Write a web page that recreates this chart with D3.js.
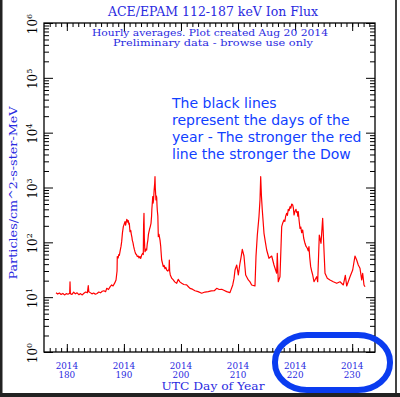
<!DOCTYPE html>
<html>
<head>
<meta charset="utf-8">
<script src="https://d3js.org/d3.v7.min.js"></script>
<style>
  body { margin: 0; background: #fff; }
  svg { display: block; }
</style>
</head>
<body>
<script>
// hourly flux (day of year, particles/cm^2-s-ster-MeV)
var days = [178.1,178.4,178.7,179.0,179.3,179.6,179.9,180.2,180.5,180.56,180.62,180.9,181.2,181.5,181.8,182.1,182.4,182.7,183.0,183.3,183.6,183.76,183.85,184.1,184.4,184.7,185.0,185.3,185.6,185.9,186.2,186.5,186.8,187.0,187.3,187.6,187.86,
  188.1,188.4,188.62,188.8,188.84,189.0,189.1,189.2,189.32,189.45,189.5,189.61,189.75,189.9,190.05,190.19,190.3,190.4,190.5,190.6,190.7,190.77,190.87,190.95,191.07,191.2,191.3,191.4,191.47,191.6,191.7,191.82,191.94,192.05,192.2,192.35,192.52,192.65,192.8,192.95,193.12,193.29,193.4,193.45,193.52,193.58,193.65,193.7,193.85,193.99,194.1,194.2,194.3,194.4,194.5,194.6,194.75,194.85,194.9,195.0,195.05,195.12,195.2,195.3,195.4,195.45,195.5,195.55,195.62,195.7,195.75,195.8,195.85,195.95,196.03,196.15,196.33,196.45,196.5,196.62,196.75,196.9,197.05,197.2,197.35,197.5,197.7,197.9,197.96,198.02,198.13,
  198.4,198.66,198.9,199.25,199.53,199.8,200.13,200.5,201.0,201.3,201.58,202.0,202.46,203.0,203.63,204.2,204.79,205.3,205.84,206.26,206.7,207.14,207.6,208.01,208.59,209.07,209.3,209.47,209.77,210.05,210.34,210.55,210.75,211.04,211.34,211.8,212.1,212.39,212.97,213.15,213.38,213.67,213.85,213.97,214.1,214.25,214.55,214.8,215.02,215.42,215.9,216.3,216.77,216.88,217.05,217.35,
  217.65,217.8,218.05,218.2,218.35,218.53,218.65,218.8,218.95,219.11,219.25,219.4,219.58,219.7,219.81,219.95,220.16,220.27,220.38,220.47,220.56,220.7,220.86,221.0,221.15,221.33,221.5,221.73,221.9,222.14,222.3,222.43,222.55,222.73,222.9,
  223.08,223.31,223.78,223.96,224.24,224.54,224.83,225.06,225.24,225.64,226.11,226.69,227.29,227.87,228.45,228.8,229.04,229.62,230.09,230.49,230.79,231.07,231.37,231.67,231.84,232.07,232.25];
var flux = [12.0,11.4,11.9,11.2,11.7,11.0,11.6,11.3,11.8,19.1,11.6,11.2,12.3,11.5,12.0,11.1,11.6,11.0,11.8,12.4,12.0,16.2,12.6,12.1,11.5,11.9,11.3,11.7,12.4,12.0,12.8,13.1,12.6,14.5,13.8,15.6,16.7,
  16.0,18.2,20.6,30,54.7,52,60,58,67.5,80,85,102.8,150,193,215,238,205,230,262,255,232,250,215,222,156,165,140,125,110,98,85,75,67.5,62,60,55,56.3,52,55,51,58.8,63.1,60,200,339,120,80,67.5,75,72.5,95,110,140,156,175,190,222,300,400,560,680,520,600,900,1200,1574,1000,800,592,700,650,480,389,300,127,140,110,85,70,47.6,42,36,38,33,35,31.3,30,32,47.6,30,25.4,
  22,20.6,19,17.9,21.2,19,17.9,17,16.7,15.5,14.5,14,13.1,12.6,11.8,12.4,12.6,13.0,13.1,14.5,13.8,13.9,13.2,12.6,12.1,16.7,22,31.3,38.6,25.4,41.5,55,74.7,56.3,25.4,20.6,19,16.7,16.0,56.3,136,294,600,1574,700,389,146,100,72.5,51.2,56.3,38.6,27.3,63.1,19.1,23.6,
  193,220,255,240,300,339,310,400,380,447,420,500,480,420,315,360,401,350,362,300,362,250,180,190,150,168,120,96,85,77.9,70,83.3,55,36,30,
  25.4,19.1,23.6,19.1,136,96,274,72.5,27.3,22.1,20.6,19.1,17.9,19.1,16.7,25,16.0,23.6,31.3,56.3,47.6,38.6,33.6,20.6,27.3,16.7,15.5];

var yExponents = [0,1,2,3,4,5,6];
var xLabelDays = [180,190,200,210,220,230];
var xLabelYear = "2014";
var note = ["The black lines", "represent the days of the", "year - The stronger the red", "line the stronger the Dow"];

var W = 400, H = 397;
var plotL = 44, plotR = 375, plotT = 23, plotB = 352;
var blue = "#2a2ae0";

var svg = d3.select("body").append("svg")
  .attr("width", W).attr("height", H);

svg.append("rect").attr("width", W).attr("height", H).attr("fill", "#fff");

var x = d3.scaleLinear().domain([176, 234]).range([plotL, plotR]);
var y = d3.scaleLog().domain([1, 1e6]).range([plotB, plotT]);

// ticks
var yMajor = yExponents.map(function (p) { return Math.pow(10, p); });
var yMinor = [];
yExponents.slice(0, 6).forEach(function (p) {
  for (var k = 2; k < 10; k++) yMinor.push(k * Math.pow(10, p));
});
var xMinor = d3.range(177, 234);
var xMajor = xLabelDays;

function tickAxis(axis, tv, size, tx) {
  var g = svg.append("g").attr("transform", tx)
    .call(axis.tickValues(tv).tickSize(size).tickFormat(""));
  g.select(".domain").remove();
  g.selectAll("line").attr("stroke", "#000").attr("stroke-width", 1);
}
tickAxis(d3.axisRight(y), yMinor, 5, "translate(" + plotL + ",0)");
tickAxis(d3.axisRight(y), yMajor, 9, "translate(" + plotL + ",0)");
tickAxis(d3.axisLeft(y), yMinor, 5, "translate(" + plotR + ",0)");
tickAxis(d3.axisLeft(y), yMajor, 9, "translate(" + plotR + ",0)");
tickAxis(d3.axisTop(x), xMinor, 4, "translate(0," + plotB + ")");
tickAxis(d3.axisTop(x), xMajor, 8, "translate(0," + plotB + ")");
tickAxis(d3.axisBottom(x), xMinor, 4, "translate(0," + plotT + ")");
tickAxis(d3.axisBottom(x), xMajor, 8, "translate(0," + plotT + ")");

// data line
var line = d3.line()
  .x(function (d, i) { return x(days[i]); })
  .y(function (d) { return y(d); });
svg.append("path").datum(flux)
  .attr("d", line)
  .attr("fill", "none")
  .attr("stroke", "#f00")
  .attr("stroke-width", 1.2)
  .attr("stroke-linejoin", "round");

// frame
svg.append("rect")
  .attr("x", plotL).attr("y", plotT)
  .attr("width", plotR - plotL).attr("height", plotB - plotT)
  .attr("fill", "none").attr("stroke", "#000").attr("stroke-width", 1.3);

// y tick labels
var yl = svg.selectAll(".ylab").data(yExponents).enter().append("text")
  .attr("transform", function (p) { return "translate(37," + (y(Math.pow(10, p)) + 1) + ") rotate(-90)"; })
  .attr("text-anchor", "middle")
  .style("font-family", "DejaVu Serif")
  .style("font-size", "12px")
  .attr("fill", "#000");
yl.append("tspan").text("10");
yl.append("tspan").attr("dy", -5).style("font-size", "8px").text(function (p) { return p; });

// x tick labels
var xl = svg.selectAll(".xlab").data(xLabelDays).enter().append("text")
  .attr("x", function (d) { return x(d); })
  .attr("text-anchor", "middle")
  .style("font-family", "DejaVu Serif")
  .style("font-size", "8.8px")
  .attr("fill", blue);
xl.append("tspan").attr("y", 369).text(xLabelYear);
xl.append("tspan").attr("x", function (d) { return x(d); }).attr("y", 378).text(function (d) { return d; });

// titles
svg.append("text").attr("x", 213).attr("y", 16).attr("text-anchor", "middle")
  .attr("textLength", 210).attr("lengthAdjust", "spacingAndGlyphs")
  .style("font-family", "DejaVu Serif").style("font-size", "12.5px")
  .attr("fill", blue).text("ACE/EPAM 112-187 keV Ion Flux");
svg.append("text").attr("x", 210).attr("y", 36).attr("text-anchor", "middle")
  .attr("textLength", 236).attr("lengthAdjust", "spacingAndGlyphs")
  .style("font-family", "DejaVu Serif").style("font-size", "8.8px")
  .attr("fill", blue).text("Hourly averages. Plot created Aug 20 2014");
svg.append("text").attr("x", 213).attr("y", 45.5).attr("text-anchor", "middle")
  .attr("textLength", 200).attr("lengthAdjust", "spacingAndGlyphs")
  .style("font-family", "DejaVu Serif").style("font-size", "8.8px")
  .attr("fill", blue).text("Preliminary data - browse use only");

svg.append("text").attr("transform", "translate(17,193) rotate(-90)")
  .attr("text-anchor", "middle")
  .attr("textLength", 173).attr("lengthAdjust", "spacingAndGlyphs")
  .style("font-family", "DejaVu Serif").style("font-size", "11.5px")
  .attr("fill", blue).text("Particles/cm^2-s-ster-MeV");

svg.append("text").attr("x", 213).attr("y", 390).attr("text-anchor", "middle")
  .attr("textLength", 103).attr("lengthAdjust", "spacingAndGlyphs")
  .style("font-family", "DejaVu Serif").style("font-size", "11px")
  .attr("fill", blue).text("UTC Day of Year");

// annotation
svg.selectAll(".note").data(note).enter().append("text")
  .attr("x", 172)
  .attr("y", function (d, i) { return 108 + i * 17; })
  .style("font-family", "DejaVu Sans")
  .style("font-size", "14px")
  .attr("fill", "#1040ff")
  .text(function (d) { return d; });

// hand-drawn highlight
svg.append("rect")
  .attr("x", 275).attr("y", 335).attr("width", 115).attr("height", 55)
  .attr("rx", 32).attr("ry", 27)
  .attr("fill", "none").attr("stroke", "#0a3cf0").attr("stroke-width", 6);

// image border
svg.append("rect").attr("x", 0).attr("y", 0).attr("width", 2.5).attr("height", H).attr("fill", "#222");
svg.append("rect").attr("x", 395).attr("y", 0).attr("width", 2).attr("height", H).attr("fill", "#444");
svg.append("rect").attr("x", 0).attr("y", 393).attr("width", W).attr("height", 4).attr("fill", "#222");
</script>
</body>
</html>
